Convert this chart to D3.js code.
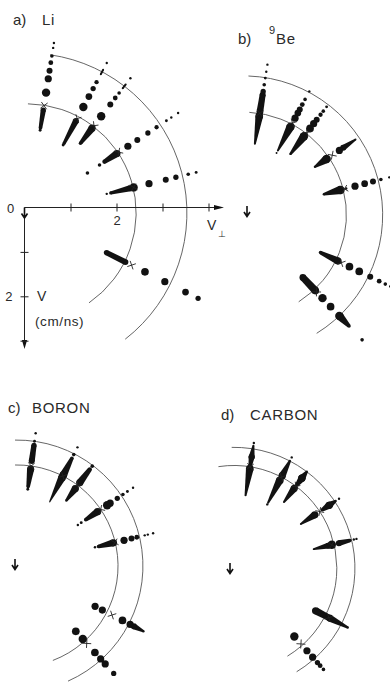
<!DOCTYPE html>
<html><head><meta charset="utf-8">
<script src="https://cdn.jsdelivr.net/npm/d3@7"></script>
<style>
body{margin:0;background:#fff}
svg{display:block}
text{font-family:"Liberation Sans",Arial,"DejaVu Sans",sans-serif;fill:#2a2a2a}
</style>
</head><body>
<svg id="fig" width="390" height="683"></svg>
<script>
// ---- data (velocities in cm/ns; intensities in relative units) ----
const panelLabels = ["a)", "b)", "c)", "d)"];
const panelNames = ["Li", "Be", "BORON", "CARBON"];
const massNumbers = ["", "9", "", ""];
const xTickValues = [1, 2, 3, 4];
const yTickValues = [1, 2, 3];
const labeledTick = 2;

const arcRadiiA = [2.41, 3.53];
const arcRadiiB = [2.27, 3.07];
const arcRadiiC = [2.23, 2.78];
const arcRadiiD = [2.27, 2.67];

// spoke: angle (deg), dots [r, intensity], streaks [r0, r1, i0, i1], cross r
const spokesA = [
  {angle: 81, dots: [[3.80,1],[3.69,1],[3.51,1.5],[3.36,2],[3.18,2.5],[3.00,3],[2.69,3.5],[1.85,1.2]], streaks: [[2.30,1.90,2.2,1.5]], cross: 2.40},
  {angle: 62, dots: [[3.75,1],[3.27,1.8],[3.11,2.2],[2.91,2.8],[2.65,3.5],[1.70,1.2]], streaks: [[3.58,3.47,0.8,0.8],[2.30,1.74,2.5,1.3]], cross: 2.36},
  {angle: 52.5, dots: [[3.75,1],[3.34,1.5],[3.20,2],[3.02,2.5],[2.69,3.5]], streaks: [[3.58,3.47,0.8,0.8],[2.36,1.94,3,1.5]], cross: 2.43},
  {angle: 33.5, dots: [[4.00,1],[3.82,1],[3.69,1.2],[3.43,1.8],[3.20,2.2],[2.92,2.5],[2.67,3],[1.92,1.5],[1.60,1.5]], streaks: [[2.38,2.05,3,1.8]], cross: 2.43},
  {angle: 13.5, dots: [[3.84,1.2],[3.66,1.5],[3.38,2.2],[3.15,2.5],[2.77,3],[2.42,3.5],[1.81,1]], streaks: [[2.34,1.90,2.5,1.3]], cross: 2.42},
  {angle: -26.5, dots: [[2.91,3.2],[3.40,3],[3.91,2.8],[4.22,2.2]], streaks: [[1.96,2.43,2.2,2.4]], cross: 2.58}
];
const spokesB = [
  {angle: 81, dots: [[3.36,1],[3.20,1],[3.06,1.2],[2.91,1.5],[2.76,2.2]], streaks: [[2.69,2.30,2.5,2.8],[2.21,1.59,3.2,0.8]], cross: 2.27},
  {angle: 62, dots: [[3.09,1],[2.89,1.5],[2.76,2],[2.64,2.5],[2.55,2.8],[2.42,3],[1.55,0.8]], streaks: [[2.21,1.61,3.5,0.8]], cross: 2.30},
  {angle: 52.5, dots: [[3.01,1.2],[2.89,1.5],[2.79,1.8],[2.65,2.5],[2.54,3],[2.41,3.2]], streaks: [[2.19,1.70,3.5,1]], cross: 2.30},
  {angle: 34, dots: [[2.55,3]], streaks: [[2.98,2.65,0.8,2.5],[2.21,1.90,3.5,1]], cross: 2.36},
  {angle: 14.5, dots: [[3.32,1],[3.13,1.5],[2.95,2.5],[2.76,2.8],[2.54,3],[2.34,1]], streaks: [[1.83,2.21,1,3.5]], cross: 2.30},
  {angle: -26, dots: [[2.60,3.2],[2.84,3.2],[3.11,2.5],[3.33,2],[3.48,1.5],[3.60,1]], streaks: [[1.89,2.32,1.5,3]], cross: 2.40},
  {angle: -46.5, dots: [[2.53,3.5],[2.79,3.2],[3.80,1.5]], streaks: [[1.90,2.30,2.8,3.2],[3.07,3.38,3.5,1.5]], cross: 2.34}
];
const spokesC = [
  {angle: 82, dots: [[2.96,1],[2.78,1.2],[1.71,1.2]], streaks: [[2.69,2.34,2.2,2.5],[2.16,1.77,3,1.5]], cross: 2.23},
  {angle: 63, dots: [[2.94,1],[2.76,1.5]], streaks: [[2.67,2.25,1.5,3.2],[2.19,1.59,3.2,0.5]], cross: 2.23},
  {angle: 53, dots: [[2.76,1.5]], streaks: [[2.67,2.30,1.8,3],[2.14,1.81,3,1]], cross: 2.23},
  {angle: 34, dots: [[3.09,1],[2.94,1.2],[2.82,1.5],[2.67,2.2],[2.48,3],[2.40,3.5],[1.71,1.2],[1.62,1]], streaks: [[2.15,1.83,3,1.5]], cross: 2.23},
  {angle: 13.5, dots: [[3.09,1],[2.97,1],[2.90,1],[2.72,2],[2.60,2.5],[2.43,3],[1.77,1]], streaks: [[2.19,1.85,3,1.5]], cross: 2.22},
  {angle: -27.3, dots: [[1.94,3],[2.12,3],[2.62,3.2],[2.81,3]], streaks: [[2.90,3.14,2.5,1]], cross: 2.36},
  {angle: -48, dots: [[1.94,3.2],[2.17,3.5],[2.57,3.2],[2.76,3],[2.91,3],[3.19,2.2]], streaks: [], cross: 2.30}
];
const spokesD = [
  {angle: 81, dots: [[2.80,1]], streaks: [[2.74,2.49,0.8,2.5],[2.49,2.30,2.5,1.5],[2.23,1.63,3.2,0.8]], cross: 2.27},
  {angle: 62.5, dots: [[2.76,1],[1.59,1]], streaks: [[2.67,2.30,1,3],[2.19,1.63,3.2,0.8]], cross: 2.27},
  {angle: 53, dots: [], streaks: [[2.67,2.49,1,3],[2.49,2.30,3,1.5],[2.21,1.83,3,0.8]], cross: 2.27},
  {angle: 33.5, dots: [[2.78,1]], streaks: [[2.69,2.52,1,3],[2.52,2.34,3,1.5],[2.14,1.77,3,0.8]], cross: 2.27},
  {angle: 13.5, dots: [[2.78,1],[2.72,1],[2.22,3.5]], streaks: [[2.63,2.38,1.5,2.5],[2.14,1.81,2.5,0.8]], cross: 2.22},
  {angle: -27.5, dots: [], streaks: [[2.03,2.34,3,2.5],[2.38,2.83,3,1]], cross: 2.36},
  {angle: -48.5, dots: [[2.01,3.5],[2.43,3],[2.62,3],[2.78,2.2],[2.87,2],[2.98,1.5]], streaks: [], cross: 2.23}
];

// ---- layout ----
const svg = d3.select("#fig");
const rScale = d3.scaleLinear().domain([0, 4]).range([0, 181.2]);
const sizeScale = d3.scaleLinear().domain([0, 4]).range([0, 4.8]);
const INK = "#121212";

const panels = [
  {cx: 27, cy: 213, radii: arcRadiiA, ext: [[89.5,-55.4],[81.7,-52.1]], spokes: spokesA, arrow: null},
  {cx: 243.6, cy: 215, radii: arcRadiiB, ext: [[86.8,-57.6],[88,-58.3]], spokes: spokesB, arrow: [247, 206]},
  {cx: 17, cy: 566, radii: arcRadiiC, ext: [[91.1,-69.2],[90.9,-66.1]], spokes: spokesC, arrow: [15, 559]},
  {cx: 234, cy: 568.3, radii: arcRadiiD, ext: [[98.7,-58.7],[91.1,-58.8]], spokes: spokesD, arrow: [230, 563]}
];

function pt(p, r, a) {
  const t = a * Math.PI / 180;
  return [p.cx + rScale(r) * Math.cos(t), p.cy - rScale(r) * Math.sin(t)];
}

panels.forEach((p, pi) => {
  const g = svg.append("g");
  p.radii.forEach((R, k) => {
    const [a0, a1] = p.ext[k];
    const path = d3.path();
    const s = pt(p, R, a0);
    path.moveTo(s[0], s[1]);
    path.arc(p.cx, p.cy, rScale(R), -a0 * Math.PI / 180, -a1 * Math.PI / 180, false);
    g.append("path").attr("d", path.toString()).attr("fill", "none")
      .attr("stroke", "#555").attr("stroke-width", 0.9);
  });
  p.spokes.forEach(sp => {
    const t = sp.angle * Math.PI / 180;
    const nx = Math.sin(t), ny = Math.cos(t);
    sp.streaks.forEach(([r0, r1, i0, i1]) => {
      const [x0, y0] = pt(p, r0, sp.angle), [x1, y1] = pt(p, r1, sp.angle);
      const w0 = sizeScale(i0), w1 = sizeScale(i1);
      const poly = [[x0 + nx*w0, y0 + ny*w0], [x1 + nx*w1, y1 + ny*w1],
                    [x1 - nx*w1, y1 - ny*w1], [x0 - nx*w0, y0 - ny*w0]];
      g.append("path").attr("d", d3.line()(poly) + "Z").attr("fill", INK);
      g.append("circle").attr("cx", x0).attr("cy", y0).attr("r", w0).attr("fill", INK);
      g.append("circle").attr("cx", x1).attr("cy", y1).attr("r", w1).attr("fill", INK);
    });
    g.selectAll(null).data(sp.dots).enter().append("circle")
      .attr("cx", d => pt(p, d[0], sp.angle)[0])
      .attr("cy", d => pt(p, d[0], sp.angle)[1])
      .attr("r", d => sizeScale(d[1]))
      .attr("fill", INK);
    if (sp.cross != null) {
      const [x, y] = pt(p, sp.cross, sp.angle);
      const L = 4.5;
      const ux = Math.cos(t + Math.PI/4), uy = -Math.sin(t + Math.PI/4);
      const vx = Math.cos(t - Math.PI/4), vy = -Math.sin(t - Math.PI/4);
      g.append("path").attr("d", `M${x-ux*L},${y-uy*L}L${x+ux*L},${y+uy*L}M${x-vx*L},${y-vy*L}L${x+vx*L},${y+vy*L}`)
        .attr("stroke", "#222").attr("stroke-width", 0.9).attr("fill", "none");
    }
  });
  if (p.arrow) {
    const [ax, ay] = p.arrow;
    g.append("path").attr("d", `M${ax},${ay}V${ay+10}M${ax-3},${ay+6}L${ax},${ay+10.5}L${ax+3},${ay+6}`)
      .attr("stroke", "#111").attr("stroke-width", 1.6).attr("fill", "none");
  }
});

// ---- panel titles ----
const titlePos = [[13, 25], [238, 44], [8, 413], [221, 420]];
const namePos = [42, 276, 32, 250];
panelLabels.forEach((lab, i) => {
  svg.append("text").attr("x", titlePos[i][0]).attr("y", titlePos[i][1])
    .attr("font-size", 15).text(lab);
  svg.append("text").attr("x", namePos[i]).attr("y", titlePos[i][1])
    .attr("font-size", 15).attr("letter-spacing", 0.7).text(panelNames[i]);
  if (massNumbers[i]) {
    svg.append("text").attr("x", namePos[i] - 7).attr("y", titlePos[i][1] - 10)
      .attr("font-size", 11).text(massNumbers[i]);
  }
});

// ---- axes for panel a ----
const x = d3.scaleLinear().domain([0, 4]).range([24.5, 208.5]);
const y = d3.scaleLinear().domain([0, 3]).range([207.5, 340.7]);
const ax = svg.append("g");
ax.append("line").attr("x1", x(0)).attr("x2", 221).attr("y1", y(0)).attr("y2", y(0))
  .attr("stroke", "#222").attr("stroke-width", 1);
ax.append("path").attr("d", `M224,${y(0)}L214,${y(0)-2.6}L214,${y(0)+2.6}Z`).attr("fill", "#111");
ax.append("line").attr("x1", x(0)).attr("x2", x(0)).attr("y1", y(0)).attr("y2", 345)
  .attr("stroke", "#222").attr("stroke-width", 1);
ax.append("path").attr("d", `M${x(0)},349L${x(0)-2.6},340L${x(0)+2.6},340Z`).attr("fill", "#111");

const xg = svg.append("g").attr("transform", `translate(0,${y(0)})`)
  .call(d3.axisBottom(x).tickValues(xTickValues).tickSize(4)
    .tickFormat(d => d === labeledTick ? String(d) : ""));
xg.select(".domain").remove();
xg.selectAll(".tick line").attr("y1", -4).attr("y2", 4).attr("stroke", "#222");
xg.selectAll(".tick text").attr("y", 17).attr("dy", 0).attr("font-size", 13)
  .attr("font-family", "Liberation Sans, Arial, sans-serif").attr("fill", "#2a2a2a");

const yg = svg.append("g").attr("transform", `translate(${x(0)},0)`)
  .call(d3.axisLeft(y).tickValues(yTickValues).tickSize(4)
    .tickFormat(d => d === labeledTick ? String(d) : ""));
yg.select(".domain").remove();
yg.selectAll(".tick line").attr("x1", -4).attr("x2", 4).attr("stroke", "#222");
yg.selectAll(".tick text").attr("x", -12).attr("dy", "0.35em").attr("font-size", 13)
  .attr("font-family", "Liberation Sans, Arial, sans-serif").attr("fill", "#2a2a2a");

svg.append("text").attr("x", 7).attr("y", 213).attr("font-size", 13).text("0");
svg.append("path").attr("d", `M${x(0)},${y(0)}V${y(0)+10}M${x(0)-3},${y(0)+6}L${x(0)},${y(0)+10.5}L${x(0)+3},${y(0)+6}`)
  .attr("stroke", "#111").attr("stroke-width", 1.6).attr("fill", "none");
svg.append("text").attr("x", 37).attr("y", 301).attr("font-size", 14).text("V");
svg.append("text").attr("x", 35).attr("y", 326).attr("font-size", 13.5).attr("letter-spacing", 0.6).text("(cm/ns)");
svg.append("text").attr("x", 207).attr("y", 230).attr("font-size", 14).text("V");
svg.append("text").attr("x", 218).attr("y", 237).attr("font-size", 9).attr("fill", "#2a2a2a")
  .style("fill", "#2a2a2a").attr("font-family", "DejaVu Sans, sans-serif").text("⊥");
</script>
</body></html>
